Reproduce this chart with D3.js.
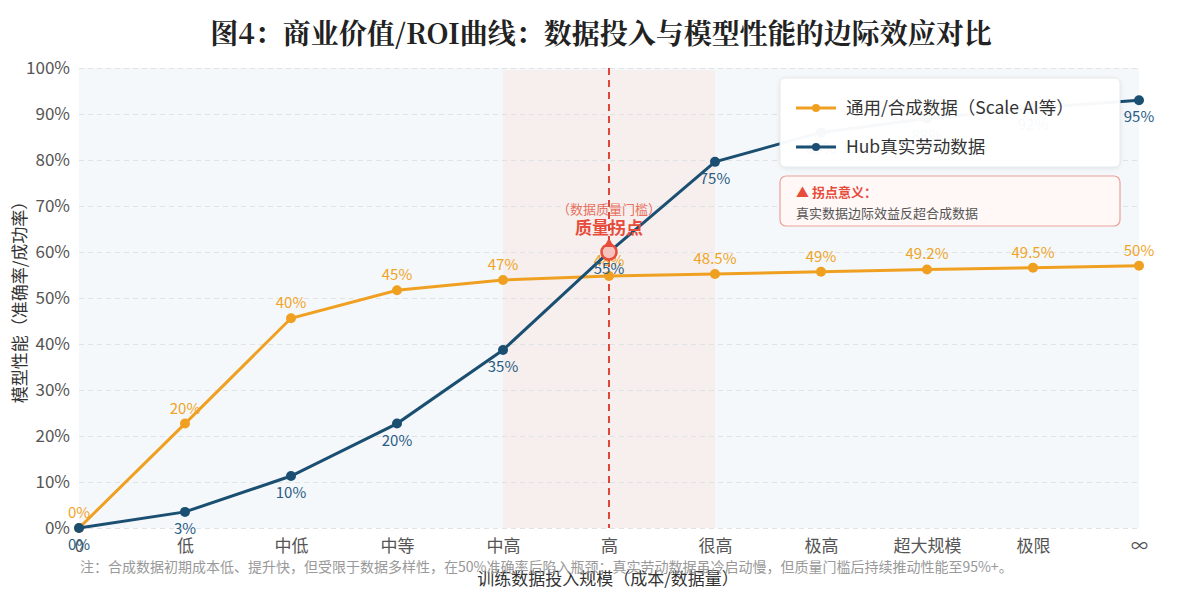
<!DOCTYPE html>
<html>
<head>
<meta charset="utf-8">
<script src="https://cdn.jsdelivr.net/npm/d3@7"></script>
<style>
  body { margin: 0; background: #fff; }
  text { font-family: "Noto Sans CJK SC", "Noto Sans", sans-serif; }
</style>
</head>
<body>
<div id="chart"></div>
<script>
// data
var categories = ["0", "低", "中低", "中等", "中高", "高", "很高", "极高", "超大规模", "极限", "∞"];
var synthValues = [0, 22.7, 45.6, 51.7, 53.9, 54.8, 55.2, 55.7, 56.2, 56.6, 57.0];
var synthLabels = ["0%", "20%", "40%", "45%", "47%", "48%", "48.5%", "49%", "49.2%", "49.5%", "50%"];
var hubValues = [0, 3.5, 11.3, 22.7, 38.7, 60, 79.6, 86, 89, 91.3, 93.0];
var hubLabels = ["0%", "3%", "10%", "20%", "35%", "55%", "75%", "85%", "88%", "92%", "95%"];
var yTicks = [0, 10, 20, 30, 40, 50, 60, 70, 80, 90, 100];
var bandFrom = "中高", bandTo = "很高", pivot = "高";

var orange = "#f0a020", blue = "#1b4f72", red = "#e74c3c";

var svg = d3.select("#chart").append("svg")
    .attr("width", 1200)
    .attr("height", 600),
    margin = { top: 68, right: 61, bottom: 72, left: 79 },
    width = 1200 - margin.left - margin.right,
    height = 600 - margin.top - margin.bottom;

var x = d3.scalePoint().domain(categories).range([0, width]),
    y = d3.scaleLinear().domain([0, 100]).range([height, 0]);

var g = svg.append("g")
    .attr("transform", "translate(" + margin.left + "," + margin.top + ")");

// title
svg.append("text")
    .attr("x", 601).attr("y", 44)
    .attr("text-anchor", "middle")
    .style("font-family", "'Noto Serif CJK SC', 'Noto Sans CJK SC', serif")
    .style("font-size", "28px")
    .style("font-weight", "bold")
    .style("fill", "#222")
    .text("图4：商业价值/ROI曲线：数据投入与模型性能的边际效应对比");

// plot background + shaded band
g.append("rect")
    .attr("width", width).attr("height", height)
    .attr("fill", "#f5f8fa");
g.append("rect")
    .attr("x", x(bandFrom)).attr("y", 2)
    .attr("width", x(bandTo) - x(bandFrom)).attr("height", height - 2)
    .attr("fill", "#f6efed");

// grid
g.append("g")
    .call(d3.axisLeft(y).tickValues(yTicks).tickSize(-width).tickFormat(""))
    .call(function (s) {
        s.select(".domain").remove();
        s.selectAll("line").attr("stroke", "#dfe3e6").attr("stroke-dasharray", "5,4");
    });

// y axis labels
g.append("g")
    .call(d3.axisLeft(y).tickValues(yTicks).tickSize(0).tickPadding(9).tickFormat(function (d) { return d + "%"; }))
    .call(function (s) {
        s.select(".domain").remove();
        s.selectAll("text").style("font-size", "17px").style("fill", "#555")
            .style("font-family", "'Noto Sans CJK SC', sans-serif");
    });

// x axis labels
g.append("g")
    .attr("transform", "translate(0," + height + ")")
    .call(d3.axisBottom(x).tickSize(0).tickPadding(12))
    .call(function (s) {
        s.select(".domain").remove();
        s.selectAll("text").style("font-size", "17px").style("fill", "#555")
            .style("font-family", "'Noto Sans CJK SC', sans-serif");
    });

// axis titles
svg.append("text")
    .attr("transform", "translate(26," + (margin.top + height / 2) + ") rotate(-90)")
    .attr("text-anchor", "middle")
    .style("font-size", "17px").style("fill", "#333")
    .text("模型性能（准确率/成功率）");

svg.append("text")
    .attr("x", 608).attr("y", 585)
    .attr("text-anchor", "middle")
    .style("font-size", "17px").style("fill", "#333")
    .text("训练数据投入规模（成本/数据量）");

// note
svg.append("text")
    .attr("x", 80).attr("y", 572)
    .style("font-size", "14px").style("fill", "#999")
    .text("注：合成数据初期成本低、提升快，但受限于数据多样性，在50%准确率后陷入瓶颈；真实劳动数据虽冷启动慢，但质量门槛后持续推动性能至95%+。");

// pivot dashed line
g.append("line")
    .attr("x1", x(pivot)).attr("x2", x(pivot))
    .attr("y1", 0).attr("y2", height)
    .attr("stroke", "#e0453a").attr("stroke-width", 2)
    .attr("stroke-dasharray", "7,5");

var line = d3.line()
    .x(function (d, i) { return x(categories[i]); })
    .y(function (d) { return y(d); });

function drawSeries(values, labels, color, labelColor, above) {
    g.append("path")
        .datum(values)
        .attr("fill", "none")
        .attr("stroke", color)
        .attr("stroke-width", 3)
        .attr("d", line);
    g.selectAll(null)
        .data(values).enter().append("circle")
        .attr("cx", function (d, i) { return x(categories[i]); })
        .attr("cy", function (d) { return y(d); })
        .attr("r", 5)
        .attr("fill", color);
    g.selectAll(null)
        .data(values).enter().append("text")
        .attr("x", function (d, i) { return x(categories[i]); })
        .attr("y", function (d) { return y(d) + (above ? -10 : 22); })
        .attr("text-anchor", "middle")
        .style("font-size", "15px")
        .style("fill", labelColor)
        .text(function (d, i) { return labels[i]; });
}

drawSeries(synthValues, synthLabels, orange, "#f0a426", true);
drawSeries(hubValues, hubLabels, blue, "#2a5c84", false);

// pivot marker
var pv = hubValues[categories.indexOf(pivot)];
g.append("circle")
    .attr("cx", x(pivot)).attr("cy", y(pv))
    .attr("r", 7.5)
    .attr("fill", "#f6c2bc")
    .attr("stroke", red).attr("stroke-width", 2.5);
g.append("path")
    .attr("d", d3.symbol().type(d3.symbolTriangle).size(45))
    .attr("transform", "translate(" + x(pivot) + "," + (y(pv) - 8) + ")")
    .attr("fill", red);

g.append("text")
    .attr("x", x(pivot)).attr("y", y(pv) - 38)
    .attr("text-anchor", "middle")
    .style("font-size", "13px").style("fill", "#e8705f")
    .text("（数据质量门槛）");
g.append("text")
    .attr("x", x(pivot)).attr("y", y(pv) - 18)
    .attr("text-anchor", "middle")
    .style("font-size", "17px").style("font-weight", "bold").style("fill", red)
    .text("质量拐点");

// legend
var legend = svg.append("g").attr("transform", "translate(780,78)");
legend.append("rect")
    .attr("width", 340).attr("height", 89)
    .attr("rx", 5)
    .attr("fill", "#fff").attr("fill-opacity", 0.96)
    .attr("stroke", "#e6e9ec")
    .style("filter", "drop-shadow(0 1px 2px rgba(0,0,0,0.08))");
var legendItems = [
    { name: "通用/合成数据（Scale AI等）", color: orange, y: 30 },
    { name: "Hub真实劳动数据", color: blue, y: 69 }
];
legendItems.forEach(function (d) {
    legend.append("line")
        .attr("x1", 16).attr("x2", 56).attr("y1", d.y).attr("y2", d.y)
        .attr("stroke", d.color).attr("stroke-width", 3);
    legend.append("circle")
        .attr("cx", 36).attr("cy", d.y).attr("r", 4)
        .attr("fill", d.color);
    legend.append("text")
        .attr("x", 66).attr("y", d.y + 6)
        .style("font-size", "17.5px").style("fill", "#333")
        .text(d.name);
});

// annotation box
var note = svg.append("g").attr("transform", "translate(780,176)");
note.append("rect")
    .attr("width", 340).attr("height", 50)
    .attr("rx", 6)
    .attr("fill", "#fff8f7")
    .attr("stroke", "#eaa29b").attr("stroke-width", 1.2);
note.append("text")
    .attr("x", 16).attr("y", 21)
    .style("font-size", "13px").style("font-weight", "bold").style("fill", red)
    .text("▲ 拐点意义：");
note.append("text")
    .attr("x", 16).attr("y", 42)
    .style("font-size", "13px").style("fill", "#555")
    .text("真实数据边际效益反超合成数据");
</script>
</body>
</html>
